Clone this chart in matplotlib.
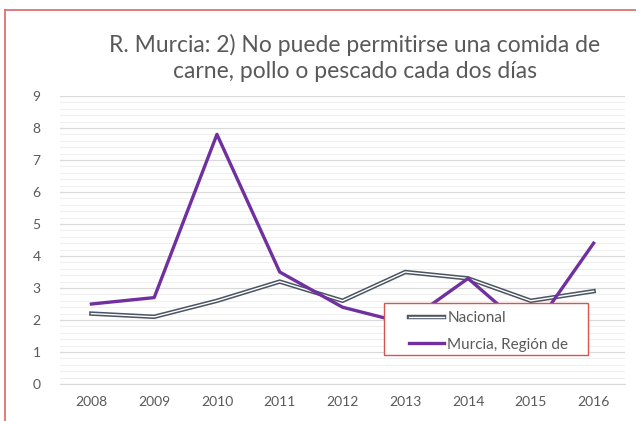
import matplotlib
matplotlib.use("Agg")
import matplotlib.pyplot as plt
import matplotlib.patheffects as pe
from matplotlib.lines import Line2D
from matplotlib.patches import Rectangle
from matplotlib.ticker import MultipleLocator

years = ["2008", "2009", "2010", "2011", "2012", "2013", "2014", "2015", "2016"]
nacional = [2.2, 2.1, 2.6, 3.2, 2.6, 3.5, 3.3, 2.6, 2.9]
murcia = [2.5, 2.7, 7.8, 3.5, 2.4, 1.9, 3.3, 1.6, 4.4]
title = "R. Murcia: 2) No puede permitirse una comida de\ncarne, pollo o pescado cada dos días"

plt.rcParams['font.family'] = ['Lato', 'DejaVu Sans']
txt = '#595959'

fig = plt.figure(figsize=(6.36, 4.21), dpi=100)
W, H = 636, 421
ax = fig.add_axes([60 / W, 1 - 384 / H, (625 - 60) / W, (384 - 96) / H])

x = list(range(len(years)))
ax.plot(x, nacional, color='white', lw=1.0, label='Nacional', zorder=3,
        solid_joinstyle='miter',
        path_effects=[pe.Stroke(linewidth=3.2, foreground='#4A5462'), pe.Normal()])
ax.plot(x, murcia, color='#7030A0', lw=2.4, label='Murcia, Región de', zorder=4)

ax.set_xlim(-0.5, 8.5)
ax.set_ylim(0, 9)
ax.set_xticks(x)
ax.set_xticklabels(years)
ax.yaxis.set_major_locator(MultipleLocator(1))
ax.yaxis.set_minor_locator(MultipleLocator(0.2))
ax.grid(True, which='major', axis='y', color='#D9D9D9', lw=0.9, zorder=0)
ax.grid(True, which='minor', axis='y', color='#EFEFEF', lw=0.8, zorder=0)
ax.set_axisbelow(True)
for s in ['top', 'right', 'left']:
    ax.spines[s].set_visible(False)
ax.spines['bottom'].set_color('#D9D9D9')
ax.tick_params(axis='both', which='both', length=0, colors=txt, labelsize=10)
ax.tick_params(axis='y', pad=14)
ax.tick_params(axis='x', pad=9)

# legend box (drawn manually for exact placement)
box = Rectangle((384 / W, 1 - 355 / H), (588 - 384) / W, (355 - 303) / H,
                transform=fig.transFigure, facecolor='white', edgecolor='#D9534F',
                lw=1.0, zorder=9, clip_on=False)
ax.add_patch(box)

leg = ax.legend(loc='upper left', bbox_to_anchor=(409 / W, 1 - 311 / H),
                bbox_transform=fig.transFigure, frameon=False,
                fontsize=11, handlelength=2.3, handletextpad=0.2,
                borderpad=0, labelspacing=0.82, borderaxespad=0)
for t in leg.get_texts():
    t.set_color(txt)
leg.set_zorder(10)

fig.text(355 / W, 1 - 58 / H, title, ha='center', va='center', fontsize=16.5,
         color=txt, linespacing=1.3)

# outer chart border (red)
fig.add_artist(Line2D([5 / W, 5 / W], [0, 1 - 10 / H], color='#E06666', lw=1.2,
                      transform=fig.transFigure))
fig.add_artist(Line2D([5 / W, 1], [1 - 10 / H, 1 - 10 / H], color='#E06666', lw=1.2,
                      transform=fig.transFigure))

fig.savefig('out.png', dpi=100)
